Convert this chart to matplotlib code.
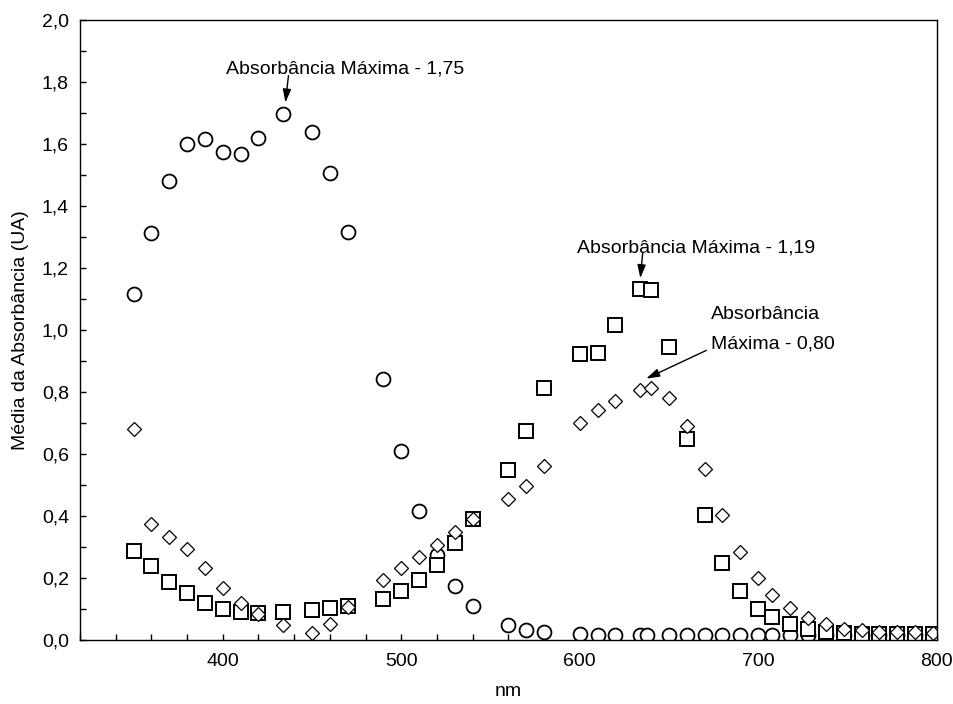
import matplotlib
matplotlib.use("Agg")
import matplotlib.pyplot as plt
from matplotlib.ticker import MultipleLocator, FuncFormatter

plt.rcParams['font.family'] = ['Liberation Sans', 'DejaVu Sans']

# ===================== Data =====================
wl_circ = [350, 360, 370, 380, 390, 400, 410, 420, 434, 450, 460, 470,
           490, 500, 510, 520, 530, 540, 560, 570, 580, 600, 610, 620,
           634, 638, 650, 660, 670, 680, 690, 700, 708, 718, 728, 738,
           748, 758, 768, 778, 788, 798]
abs_circ = [1.117, 1.315, 1.482, 1.600, 1.616, 1.577, 1.568, 1.622, 1.699, 1.639, 1.509, 1.318,
            0.843, 0.609, 0.416, 0.273, 0.174, 0.109, 0.047, 0.032, 0.026, 0.019, 0.017, 0.016,
            0.015, 0.015, 0.015, 0.015, 0.015, 0.015, 0.015, 0.015, 0.015, 0.015, 0.015, 0.015,
            0.015, 0.015, 0.015, 0.015, 0.015, 0.015]

wl_sq = [350, 360, 370, 380, 390, 400, 410, 420, 434, 450, 460, 470,
         490, 500, 510, 520, 530, 540, 560, 570, 580, 600, 610, 620,
         634, 640, 650, 660, 670, 680, 690, 700, 708, 718, 728, 738,
         748, 758, 768, 778, 788, 798]
abs_sq = [0.288, 0.240, 0.187, 0.151, 0.120, 0.100, 0.091, 0.088, 0.090, 0.097, 0.104, 0.110,
          0.133, 0.159, 0.194, 0.242, 0.312, 0.391, 0.548, 0.674, 0.815, 0.922, 0.927, 1.018,
          1.134, 1.129, 0.946, 0.648, 0.403, 0.249, 0.158, 0.101, 0.073, 0.051, 0.035, 0.026,
          0.022, 0.021, 0.020, 0.020, 0.020, 0.020]

wl_dia = wl_sq
abs_dia = [0.680, 0.374, 0.333, 0.294, 0.231, 0.169, 0.118, 0.084, 0.049, 0.024, 0.052, 0.108,
           0.194, 0.231, 0.269, 0.306, 0.349, 0.391, 0.455, 0.498, 0.563, 0.701, 0.742, 0.772,
           0.806, 0.812, 0.780, 0.690, 0.553, 0.405, 0.285, 0.199, 0.146, 0.102, 0.071, 0.051,
           0.037, 0.031, 0.027, 0.025, 0.025, 0.022]

# ===================== Figure =====================
fig = plt.figure(figsize=(9.54, 7.04), dpi=100)
ax = fig.add_axes([0.0839, 0.0909, 0.8978, 0.88])

ax.plot(wl_circ, abs_circ, linestyle='none', marker='o', markersize=10,
        markerfacecolor='white', markeredgecolor='black', markeredgewidth=1.3)
ax.plot(wl_sq, abs_sq, linestyle='none', marker='s', markersize=10,
        markerfacecolor='white', markeredgecolor='black', markeredgewidth=1.4)
ax.plot(wl_dia, abs_dia, linestyle='none', marker='D', markersize=6.8,
        markerfacecolor='white', markeredgecolor='black', markeredgewidth=0.9)

ax.set_xlim(320, 800)
ax.set_ylim(0, 2.0)
ax.xaxis.set_major_locator(MultipleLocator(100))
ax.xaxis.set_minor_locator(MultipleLocator(20))
ax.yaxis.set_major_locator(MultipleLocator(0.2))
ax.yaxis.set_minor_locator(MultipleLocator(0.1))
ax.yaxis.set_major_formatter(FuncFormatter(lambda v, p: f"{v:.1f}".replace('.', ',')))
ax.tick_params(which='both', direction='in', length=4, width=1, labelsize=14,
               top=False, right=False)
ax.tick_params(axis='y', pad=8)
ax.tick_params(axis='x', pad=9)
for s in ax.spines.values():
    s.set_linewidth(1)

ax.set_xlabel("nm", fontsize=14, labelpad=10)
ax.set_ylabel("Média da Absorbância (UA)", fontsize=14, labelpad=9)

# annotations
arrow = dict(arrowstyle='-|>,head_length=0.8,head_width=0.25', color='black', lw=1,
             shrinkA=0, shrinkB=0)
ax.text(401.9, 1.828, "Absorbância Máxima - 1,75", fontsize=14, ha='left', va='baseline')
ax.annotate('', xy=(435.1, 1.735), xytext=(436.8, 1.822), arrowprops=arrow)

ax.text(598.4, 1.2526, "Absorbância Máxima - 1,19", fontsize=14, ha='left', va='baseline')
ax.annotate('', xy=(634.0, 1.168), xytext=(635.3, 1.248), arrowprops=arrow)

ax.text(673.8, 1.0355, "Absorbância", fontsize=14, ha='left', va='baseline')
ax.text(673.8, 0.941, "Máxima - 0,80", fontsize=14, ha='left', va='baseline')
ax.annotate('', xy=(637.3, 0.844), xytext=(671.0, 0.935), arrowprops=arrow)

fig.savefig("out.png", dpi=100)
